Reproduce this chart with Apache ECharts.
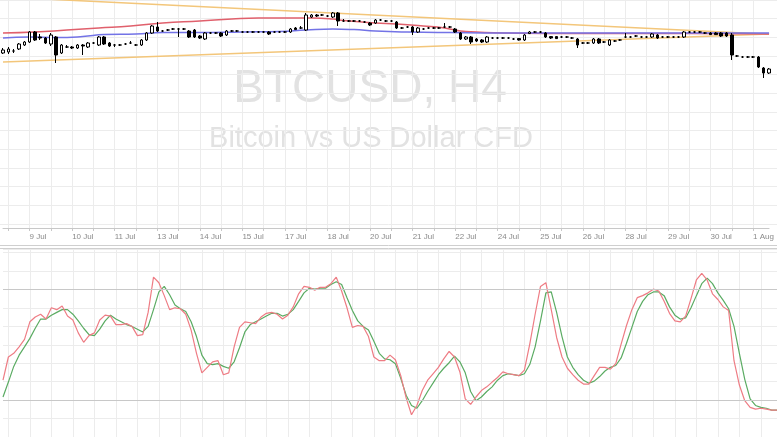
<!DOCTYPE html>
<html><head><meta charset="utf-8">
<script src="https://cdn.jsdelivr.net/npm/echarts@6/dist/echarts.min.js"></script>
<style>html,body{margin:0;padding:0;background:#fff}#c{width:777px;height:437px}</style>
</head><body><div id="c"></div>
<script>
// ---- data ----
const tickLabels = ['9 Jul','10 Jul','11 Jul','13 Jul','14 Jul','15 Jul','17 Jul','18 Jul','20 Jul','21 Jul','22 Jul','24 Jul','25 Jul','26 Jul','28 Jul','29 Jul','30 Jul','1 Aug'];
const firstLabelIndex = 5;
const labelStep = 8;
const gridStep = 4;

// H4 candles: [open, close, low, high]
const candles = [
[8135,8150,8130,8160],[8140,8155,8130,8165],[8145,8145,8135,8155],[8155,8180,8150,8185],[8175,8190,8170,8195],
[8190,8240,8185,8245],[8240,8200,8195,8245],[8215,8210,8200,8230],[8210,8185,8180,8215],[8180,8225,8170,8235],
[8215,8125,8085,8220],[8135,8175,8130,8180],[8165,8165,8160,8175],[8165,8160,8155,8170],[8160,8175,8155,8180],
[8175,8170,8125,8180],[8165,8185,8160,8190],[8185,8185,8180,8190],[8175,8215,8170,8220],[8215,8180,8175,8220],
[8185,8170,8165,8190],[8175,8175,8165,8180],[8175,8175,8170,8180],[8180,8180,8175,8185],[8185,8185,8180,8195],
[8175,8175,8170,8180],[8175,8200,8170,8205],[8200,8235,8195,8240],[8235,8270,8230,8275],[8265,8245,8240,8290],
[8245,8245,8240,8250],[8250,8250,8245,8255],[8255,8255,8250,8260],[8255,8255,8215,8260],[8255,8255,8250,8260],
[8245,8215,8210,8250],[8250,8215,8210,8255],[8220,8210,8205,8225],[8205,8235,8200,8240],[8235,8235,8230,8240],
[8235,8235,8230,8240],[8235,8220,8215,8240],[8225,8245,8220,8250],[8245,8245,8240,8250],[8245,8245,8240,8250],
[8240,8240,8235,8245],[8240,8240,8235,8245],[8240,8240,8235,8245],[8240,8240,8235,8245],[8240,8240,8235,8245],
[8240,8230,8225,8245],[8240,8240,8235,8245],[8240,8240,8235,8245],[8240,8240,8235,8245],[8240,8255,8235,8260],
[8260,8252,8250,8265],[8260,8260,8255,8270],[8250,8325,8245,8335],[8315,8325,8310,8330],[8325,8320,8315,8330],
[8325,8325,8320,8330],[8320,8320,8315,8325],[8315,8335,8310,8340],[8335,8295,8270,8340],[8295,8295,8290,8305],
[8295,8295,8290,8300],[8295,8295,8290,8300],[8295,8295,8290,8300],[8290,8290,8285,8295],[8285,8275,8270,8290],
[8285,8300,8280,8305],[8300,8300,8295,8305],[8295,8295,8290,8300],[8295,8295,8290,8300],[8290,8260,8255,8295],
[8260,8260,8255,8265],[8265,8265,8260,8270],[8265,8240,8225,8270],[8240,8260,8235,8265],[8255,8255,8250,8260],
[8260,8260,8255,8265],[8260,8260,8255,8265],[8260,8260,8255,8265],[8265,8265,8260,8285],[8265,8265,8260,8270],
[8255,8240,8235,8260],[8235,8205,8200,8240],[8205,8215,8200,8220],[8215,8190,8180,8220],[8205,8195,8190,8210],
[8200,8190,8185,8205],[8190,8215,8185,8220],[8210,8210,8205,8215],[8210,8210,8205,8215],[8210,8210,8205,8215],
[8210,8210,8205,8215],[8205,8205,8200,8210],[8207,8200,8197,8210],[8200,8225,8195,8230],[8232,8240,8230,8245],
[8240,8240,8235,8245],[8240,8240,8235,8245],[8235,8215,8210,8240],[8217,8210,8205,8220],[8217,8207,8205,8220],
[8215,8215,8210,8220],[8215,8215,8210,8220],[8210,8210,8205,8215],[8205,8175,8160,8210],[8185,8185,8180,8190],
[8185,8185,8180,8190],[8185,8205,8180,8210],[8205,8185,8180,8210],[8190,8190,8185,8195],[8175,8200,8170,8205],
[8195,8195,8190,8200],[8200,8200,8195,8205],[8215,8215,8210,8235],[8215,8215,8210,8220],[8220,8220,8215,8225],
[8215,8215,8210,8220],[8215,8215,8210,8220],[8215,8230,8210,8235],[8225,8210,8205,8230],[8215,8215,8210,8220],
[8215,8215,8210,8220],[8215,8215,8210,8220],[8215,8215,8210,8220],[8215,8240,8210,8245],[8240,8240,8235,8245],
[8240,8240,8235,8245],[8240,8240,8235,8245],[8235,8235,8230,8240],[8235,8227,8225,8240],[8235,8227,8225,8240],
[8235,8220,8215,8240],[8235,8220,8215,8240],[8225,8125,8100,8235],[8120,8120,8115,8125],[8115,8115,8110,8120],
[8115,8115,8110,8120],[8115,8115,8110,8120],[8115,8065,8060,8120],[8060,8035,8010,8065],[8035,8055,8030,8060]
];

// moving averages, [candle index, price]
const maRed = [[0,8235],[6,8240],[12,8250],[18,8260],[24,8270],[30,8285],[37,8295],[43,8305],[48,8310],[52,8310],[58,8310],[62,8305],[64,8297],[70,8285],[74,8280],[79,8270],[83,8260],[86,8245],[89,8240],[94,8235],[110,8232],[130,8232],[144,8230]];
const maBlue = [[0,8210],[5,8215],[10,8212],[15,8217],[19,8227],[25,8230],[30,8237],[37,8237],[45,8240],[52,8242],[57,8250],[62,8255],[66,8252],[70,8245],[76,8240],[84,8237],[94,8235],[144,8235]];

// triangle trend lines, [candle index, price]
const trendUpper = [[0,8415],[144,8229]];
const trendLower = [[0,8090],[144,8230]];

// stochastic oscillator
const stochK = [30.8,43.4,45.4,48.9,53.0,62.5,65.1,66.6,64.0,70.1,69.1,71.1,65.6,63.5,56.5,51.4,55.0,56.5,63.5,66.1,
65.6,61.0,61.0,61.5,60.0,55.0,55.5,67.6,86.7,83.7,76.7,69.1,70.1,69.6,66.6,58.0,45.4,34.8,37.8,40.8,
41.4,33.8,34.8,48.9,59.5,62.5,62.0,61.5,65.1,67.1,67.6,66.6,64.0,66.1,70.6,77.7,81.7,81.2,79.7,81.2,
81.2,83.2,86.7,79.2,70.1,59.5,60.5,60.0,54.5,43.4,41.4,41.4,44.4,41.9,33.3,21.2,12.1,17.1,25.2,30.8,
34.3,37.8,42.4,46.4,43.4,35.3,20.7,17.7,21.7,25.2,27.2,29.8,32.3,35.3,34.3,33.8,33.3,36.3,50.4,66.6,
81.7,83.7,69.1,54.0,43.4,37.3,33.8,30.8,28.7,28.7,33.3,37.8,37.8,36.8,39.8,50.4,60.5,69.1,75.6,76.7,
78.2,80.2,79.2,73.6,67.1,63.0,62.5,65.6,75.1,85.2,88.8,85.2,77.7,74.6,70.6,68.6,41.4,28.2,19.7,16.1,
15.1,15.6,15.1,14.6,14.6];
const stochD = [21.7,29.8,38.3,44.4,48.9,53.5,59.0,64.0,64.0,66.1,67.6,69.1,69.1,66.6,63.0,59.0,55.5,55.0,58.5,63.0,
66.1,64.0,62.5,61.0,60.0,58.5,57.0,60.0,69.1,78.7,81.7,77.2,71.6,69.6,68.1,62.5,54.5,44.4,39.8,39.3,
39.8,38.3,37.3,40.8,48.4,57.0,61.0,62.5,64.0,65.6,67.1,67.1,65.6,66.6,69.1,73.6,78.2,80.7,80.2,80.7,
80.7,82.7,84.2,82.7,75.6,68.6,63.0,60.0,58.0,51.9,45.4,42.4,41.9,39.8,31.8,22.7,17.1,15.6,19.7,24.7,
29.2,33.8,37.3,40.3,43.9,40.8,34.8,24.7,19.7,21.7,24.7,27.2,30.8,33.3,34.3,33.8,33.3,34.3,39.3,48.9,
63.0,78.2,78.7,67.6,54.5,43.4,37.8,33.8,30.8,29.2,30.3,32.8,35.8,37.8,38.8,42.9,50.9,59.5,68.1,73.6,
77.2,78.7,78.7,76.7,70.6,66.1,64.0,64.6,70.1,76.7,83.2,86.2,83.2,78.2,74.1,69.6,60.0,45.4,31.3,20.7,
17.1,16.1,15.6,14.6,14.6];
const stochLevels = [20, 80];

// ---- chart ----
const categories = candles.map((_, i) => 'H4-' + i);
const labelMap = {};
tickLabels.forEach((t, k) => { labelMap[firstLabelIndex + k * labelStep] = t; });
const isGrid = (idx) => idx % gridStep === 1;
const gridColor = '#ececec';

const chart = echarts.init(document.getElementById('c'), null, {renderer: 'canvas'});
const plotLeft = 3, plotRight = -3.6;
chart.setOption({
  animation: false,
  backgroundColor: '#fff',
  graphic: [
    {type: 'text', z: 0, style: {text: 'BTCUSD, H4', x: 370, y: 89, textAlign: 'center', textVerticalAlign: 'middle', font: '46px "Liberation Sans", Arial, sans-serif', fill: '#e2e2e2'}},
    {type: 'text', z: 0, style: {text: 'Bitcoin vs US Dollar CFD', x: 371, y: 139, textAlign: 'center', textVerticalAlign: 'middle', font: '29px "Liberation Sans", Arial, sans-serif', fill: '#e2e2e2'}},
    {type: 'line', z: 0, shape: {x1: 0, y1: 245.5, x2: 777, y2: 245.5}, style: {stroke: '#cfcfcf', lineWidth: 1}},
    {type: 'line', z: 0, shape: {x1: 0, y1: 248.5, x2: 777, y2: 248.5}, style: {stroke: '#cfcfcf', lineWidth: 1}}
  ],
  grid: [
    {left: 0, right: 0, top: -4, height: 228},
    {left: plotLeft, right: plotRight, top: 0, height: 228},
    {left: plotLeft, right: plotRight, top: 249, height: 203}
  ],
  xAxis: [
    {gridIndex: 0, type: 'value', min: 0, max: 1, show: false},
    {gridIndex: 1, type: 'category', data: categories, boundaryGap: false,
     axisLine: {show: true, lineStyle: {color: '#c8c8c8'}},
     axisTick: {show: true, interval: (i) => isGrid(i), length: 3, lineStyle: {color: '#c8c8c8'}},
     axisLabel: {show: true, interval: (i) => labelMap[i] !== undefined, formatter: (v, i) => labelMap[i] || '',
                 align: 'left', fontSize: 8, color: '#8a8a8a', margin: 5, fontFamily: 'Liberation Sans, Arial, sans-serif'},
     splitLine: {show: true, interval: (i) => isGrid(i), lineStyle: {color: gridColor}}},
    {gridIndex: 2, type: 'category', data: categories, boundaryGap: false,
     axisLine: {show: false}, axisTick: {show: false}, axisLabel: {show: false},
     splitLine: {show: true, interval: (i) => isGrid(i), lineStyle: {color: gridColor}}}
  ],
  yAxis: [
    {gridIndex: 0, type: 'value', min: 0, max: 12, interval: 1,
     axisLine: {show: false}, axisTick: {show: false}, axisLabel: {show: false},
     splitLine: {show: true, lineStyle: {color: gridColor}}},
    {gridIndex: 1, type: 'value', min: 7260, max: 8400, show: false, splitLine: {show: false}},
    {gridIndex: 2, type: 'value', min: 0, max: 102, interval: 10,
     axisLine: {show: false}, axisTick: {show: false}, axisLabel: {show: false},
     splitLine: {show: true, lineStyle: {color: gridColor}}}
  ],
  series: [
    {type: 'line', xAxisIndex: 1, yAxisIndex: 1, data: trendUpper, showSymbol: false, z: 3,
     lineStyle: {color: '#f3c67a', width: 1.5}},
    {type: 'line', xAxisIndex: 1, yAxisIndex: 1, data: trendLower, showSymbol: false, z: 3,
     lineStyle: {color: '#f3c67a', width: 1.5}},
    {type: 'line', xAxisIndex: 1, yAxisIndex: 1, data: maRed, smooth: true, showSymbol: false, z: 3,
     lineStyle: {color: '#e0606c', width: 1.5}},
    {type: 'line', xAxisIndex: 1, yAxisIndex: 1, data: maBlue, smooth: true, showSymbol: false, z: 3,
     lineStyle: {color: '#7373e6', width: 1.5}},
    {type: 'candlestick', xAxisIndex: 1, yAxisIndex: 1, data: candles, barWidth: 3, z: 4,
     itemStyle: {color: '#ffffff', color0: '#000000', borderColor: '#000000', borderColor0: '#000000', borderWidth: 1}},
    {type: 'line', xAxisIndex: 2, yAxisIndex: 2, data: stochD, showSymbol: false, z: 3,
     lineStyle: {color: '#5aab62', width: 1.2}},
    {type: 'line', xAxisIndex: 2, yAxisIndex: 2, data: stochK, showSymbol: false, z: 3,
     lineStyle: {color: '#ee7c84', width: 1.2},
     markLine: {silent: true, symbol: 'none', label: {show: false},
       lineStyle: {color: '#c8c8c8', width: 1, type: 'solid'},
       data: stochLevels.map(v => ({yAxis: v}))}}
  ]
});
</script>
</body></html>
